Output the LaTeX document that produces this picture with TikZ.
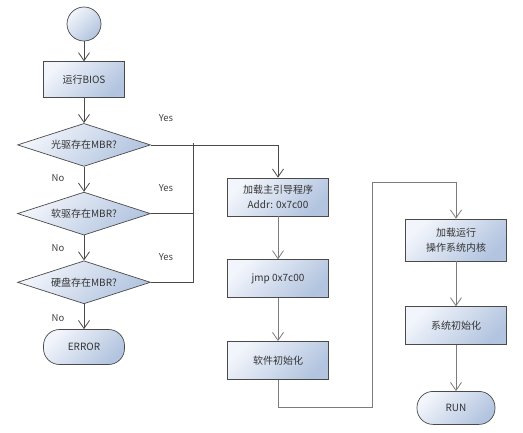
\documentclass[tikz,border=0pt]{standalone}
\usepackage{fontspec}
\setmainfont{Noto Sans CJK SC}
\usepackage{xcolor}
\usepackage{tikz}
\usetikzlibrary{arrows.meta, positioning, shapes.geometric}
\definecolor{shadelight}{HTML}{F2F5FB}
\definecolor{shadedark}{HTML}{B2C4DF}
\definecolor{edgegray}{HTML}{4A4A4A}
\definecolor{linegray}{HTML}{7C7C7C}
\tikzset{
	base/.style={draw=edgegray, line width=0.7pt, top color=shadelight,
		bottom color=shadedark, shading angle=45, text=black!80,
		align=center, font=\fontsize{10}{15}\selectfont},
	box/.style={base, rectangle, minimum width=101pt, minimum height=38pt,
		inner sep=1pt},
	decision/.style={base, diamond, aspect=3.1, minimum width=133pt,
		minimum height=43pt, inner sep=0pt},
	terminal/.style={base, rectangle, rounded corners=16pt,
		minimum width=81pt, minimum height=35pt},
	arr/.style={-{Straight Barb[length=8pt, width=11pt]}, line width=0.8pt, draw=edgegray},
	garr/.style={arr, draw=linegray},
	conn/.style={line width=0.8pt, draw=edgegray},
	gconn/.style={conn, draw=linegray},
	lbl/.style={font=\fontsize{9.5}{11}\selectfont, text=black!75},
}
\begin{document}
\begin{tikzpicture}[x=1pt, y=1pt, node distance=25pt]
	\useasboundingbox (0,0) rectangle (523,-432);
	% left column: boot device check
	\node[base, circle, minimum size=34pt] (start) at (84,-24) {};
	\node[box, minimum width=81pt, minimum height=36pt, below=20pt of start] (bios) {运行BIOS};
	\node[decision, below=of bios] (cd) {光驱存在MBR?};
	\node[decision, below=of cd] (fd) {软驱存在MBR?};
	\node[decision, below=of fd] (hd) {硬盘存在MBR?};
	\node[terminal, below=of hd] (err) {ERROR};
	
	% middle column
	\node[box] (load) at (278,-197) {加载主引导程序\\Addr: 0x7c00};
	\node[box, below=43pt of load] (jmp) {jmp 0x7c00};
	\node[box, below=43pt of jmp] (swinit) {软件初始化};
	
	% right column
	\node[box, minimum height=42pt] (kernel) at (456,-240) {加载运行\\操作系统内核};
	\node[box, below=45pt of kernel] (sysinit) {系统初始化};
	\node[terminal, minimum width=78pt, minimum height=33pt, below=46pt of sysinit] (run) {RUN};
	
	\coordinate (join) at (193,-143);
	\coordinate (turn) at (372,-407);
	\coordinate (rise) at (372,-182);
	
	\draw[arr] (start) -- (bios);
	\draw[arr] (bios) -- (cd);
	\draw[arr] (cd) -- (fd);
	\draw[arr] (fd) -- (hd);
	\draw[arr] (hd) -- (err);
	\draw[arr] (cd.east) -| (load.north);
	\draw[conn] (fd.east) -- (fd.east -| join);
	\draw[conn] (hd.east) -| (join);
	
	\draw[garr] (load) -- (jmp);
	\draw[garr] (jmp) -- (swinit);
	\draw[garr] (swinit.south) |- (turn) -- (rise) -| (kernel.north);
	\draw[garr] (kernel) -- (sysinit);
	\draw[garr] (sysinit) -- (run);
	
	\node[lbl] (yes1) at (166,-118) {Yes};
	\node[lbl] (yes2) at (166,-188) {Yes};
	\node[lbl] (yes3) at (166,-257) {Yes};
	\node[lbl] (no1) at (58,-178) {No};
	\node[lbl] (no2) at (58,-248) {No};
	\node[lbl] (no3) at (58,-318) {No};
\end{tikzpicture}
\end{document}
